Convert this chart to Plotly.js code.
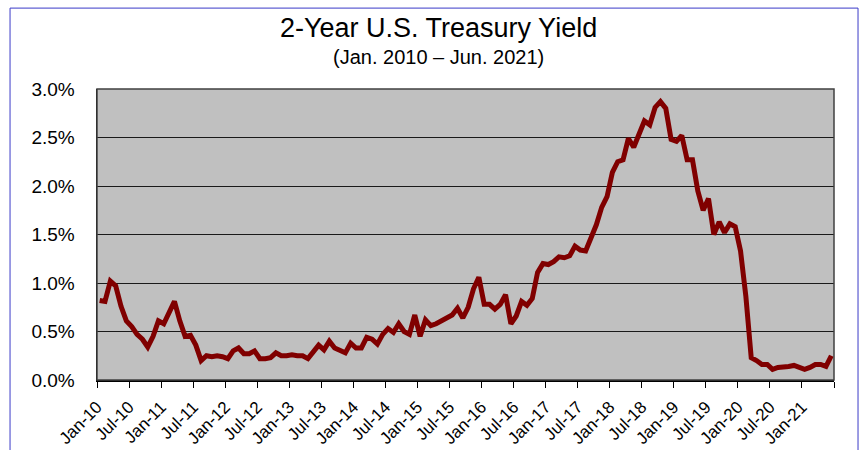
<!DOCTYPE html>
<html>
<head>
<meta charset="utf-8">
<script src="https://cdn.plot.ly/plotly-3.0.1.min.js"></script>
<style>
html,body{margin:0;padding:0;background:#fff;}
#chart{width:865px;height:450px;}
</style>
</head>
<body>
<div id="chart"></div>
<script>
// Month-end 2-year Treasury yield (%)
const y2010 = [0.82,0.81,1.02,0.97,0.76,0.61,0.55,0.47,0.42,0.34,0.45,0.61];
const y2011 = [0.58,0.69,0.81,0.61,0.45,0.46,0.36,0.20,0.25,0.24,0.25,0.24];
const y2012 = [0.22,0.30,0.33,0.27,0.27,0.30,0.22,0.22,0.23,0.28,0.25,0.25];
const y2013 = [0.26,0.25,0.25,0.22,0.30,0.36,0.31,0.40,0.33,0.31,0.28,0.38];
const y2014 = [0.33,0.33,0.44,0.42,0.37,0.47,0.53,0.49,0.58,0.50,0.47,0.67];
const y2015 = [0.45,0.62,0.56,0.58,0.61,0.64,0.67,0.74,0.64,0.75,0.94,1.06];
const y2016 = [0.78,0.78,0.73,0.78,0.88,0.58,0.66,0.81,0.77,0.84,1.11,1.20];
const y2017 = [1.19,1.22,1.27,1.26,1.28,1.38,1.34,1.33,1.47,1.60,1.78,1.89];
const y2018 = [2.14,2.25,2.27,2.49,2.40,2.52,2.67,2.63,2.81,2.87,2.80,2.48];
const y2019 = [2.46,2.52,2.27,2.27,1.95,1.75,1.87,1.50,1.63,1.52,1.61,1.58];
const y2020 = [1.33,0.86,0.23,0.20,0.16,0.16,0.11,0.13,0.13,0.14,0.15,0.13];
const y2021 = [0.11,0.13,0.16,0.16,0.14,0.25];

const tickLabels = ["Jan-10","Jul-10","Jan-11","Jul-11","Jan-12","Jul-12","Jan-13","Jul-13",
  "Jan-14","Jul-14","Jan-15","Jul-15","Jan-16","Jul-16","Jan-17","Jul-17","Jan-18","Jul-18",
  "Jan-19","Jul-19","Jan-20","Jul-20","Jan-21",""];

const yields = [].concat(y2010,y2011,y2012,y2013,y2014,y2015,y2016,y2017,y2018,y2019,y2020,y2021);
const monthIndex = yields.map((_, i) => i);
const tickVals = tickLabels.map((_, k) => k * 6 - 0.5);

const FONT = "Liberation Sans, Arial, sans-serif";

const trace = {
  x: monthIndex,
  y: yields,
  type: "scatter",
  mode: "lines",
  line: {color: "#800000", width: 5},
  hoverinfo: "skip"
};

const layout = {
  width: 865,
  height: 450,
  margin: {l: 97, r: 31, t: 89, b: 70, pad: 0},
  paper_bgcolor: "#ffffff",
  plot_bgcolor: "#c0c0c0",
  showlegend: false,
  font: {family: FONT, color: "#000"},
  xaxis: {
    range: [-0.5, yields.length - 0.5],
    tickmode: "array",
    tickvals: tickVals,
    ticktext: tickLabels,
    tickangle: -45,
    ticks: "outside",
    ticklen: 6,
    tickcolor: "#000",
    tickwidth: 1,
    tickfont: {family: FONT, size: 17, color: "#000"},
    ticklabelstandoff: 3,
    showgrid: false,
    zeroline: false,
    showline: true,
    linecolor: "#000",
    linewidth: 1.5,
    fixedrange: true
  },
  yaxis: {
    range: [0, 3],
    tickmode: "linear",
    tick0: 0,
    dtick: 0.5,
    tickformat: ".1f",
    ticksuffix: "%",
    tickfont: {family: FONT, size: 19, color: "#000"},
    ticklabelstandoff: 17,
    showgrid: true,
    gridcolor: "#1a1a1a",
    gridwidth: 1,
    zeroline: false,
    showline: true,
    linecolor: "#000",
    linewidth: 1.5,
    fixedrange: true
  },
  shapes: [
    {type: "rect", xref: "paper", yref: "paper", x0: 0, x1: 1, y0: 0, y1: 1,
     line: {color: "#404040", width: 1.5}, fillcolor: "rgba(0,0,0,0)", layer: "above"},
    {type: "rect", xref: "paper", yref: "paper", x0: -0.118, x1: 1.0326, y0: -0.26, y1: 1.278,
     line: {color: "#3a3ac8", width: 1}, fillcolor: "rgba(0,0,0,0)"}
  ],
  annotations: [
    {text: "2-Year U.S. Treasury Yield", xref: "paper", yref: "paper", x: 0.464, y: 1.21,
     xanchor: "center", yanchor: "middle", showarrow: false,
     font: {family: FONT, size: 27, color: "#000"}},
    {text: "(Jan. 2010 \u2013 Jun. 2021)", xref: "paper", yref: "paper", x: 0.464, y: 1.11,
     xanchor: "center", yanchor: "middle", showarrow: false,
     font: {family: FONT, size: 20, color: "#000"}}
  ]
};

Plotly.newPlot("chart", [trace], layout, {displayModeBar: false, staticPlot: true});
</script>
</body>
</html>
